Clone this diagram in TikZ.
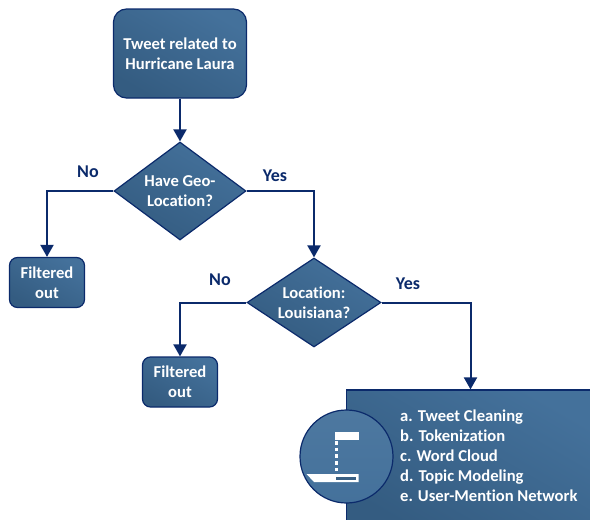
\documentclass[tikz,border=0pt]{standalone}
\usepackage{fontspec}
\setmainfont[RawFeature={-liga;-dlig;-clig}]{Carlito}
\usetikzlibrary{shapes.geometric,arrows.meta}
\definecolor{navy}{HTML}{0B2A6B}
\definecolor{filltop}{HTML}{44719B}
\definecolor{fillbot}{HTML}{345C81}
\tikzset{
  x=1pt,y=-1pt,
  every node/.style={font=\bfseries\fontsize{16.6}{20}\selectfont,align=center},
  fillshade/.style={draw=navy,line width=1.2pt,top color=filltop,bottom color=fillbot,shading angle=-30,text=white,inner sep=0pt},
  roundbox/.style={fillshade,rectangle,rounded corners=#1},
  decision/.style={fillshade,diamond,aspect=1.4},
  conn/.style={draw=navy,line width=2pt,-{Triangle[width=13pt,length=12pt]}},
  answer/.style={text=navy,inner sep=0pt,font=\bfseries\fontsize{18}{20}\selectfont},
  listitem/.style={text=white,inner sep=0pt,anchor=west,text height=12pt,text depth=4pt}
}
\begin{document}
\begin{tikzpicture}
\useasboundingbox (0,0) rectangle (590,520);
\clip (0,0) rectangle (590,520);
\node[roundbox=13pt,minimum width=133pt,minimum height=89pt] (start) at (180,53.5) {\raisebox{1pt}{\parbox{130pt}{\centering Tweet related to\\Hurricane Laura}}};
\node[decision,minimum width=132pt,minimum height=98pt] (d1) at (180,191) {Have Geo-\\Location?};
\node[roundbox=8pt,minimum width=75pt,minimum height=50pt] (f1) at (47,282.5) {Filtered\\out};
\node[decision,minimum width=134pt,minimum height=89pt] (d2) at (314,302.5) {Location:\\Louisiana?};
\node[roundbox=8pt,minimum width=75pt,minimum height=50pt] (f2) at (180,382) {Filtered\\out};
\node[fillshade,rectangle,minimum width=248pt,minimum height=140pt] (big) at (470.5,460) {};
\node[fillshade,circle,minimum size=93pt,top color=filltop!95!white,bottom color=filltop] (icon) at (346.5,456.5) {};
\fill[white] (335,431.7) rectangle (358.5,440);
\draw[white,line width=2.2pt,dash pattern=on 3.5pt off 3.2pt] (336.5,441) -- (336.5,472);
\fill[white] (306.5,474) -- (358.5,474) -- (358.5,482) -- (314,482) -- cycle;
\fill[filltop!85!black] (335.5,476.5) rectangle (355.5,480);
\node[listitem] (la) at (400,417) {a. Tweet Cleaning};
\node[listitem] (lb) at (400,437) {b. Tokenization};
\node[listitem] (lc) at (400,457) {c. Word Cloud};
\node[listitem] (ld) at (400,477) {d. Topic Modeling};
\node[listitem] (le) at (400,497) {e. User-Mention Network};
\draw[conn] (start) -- (d1);
\draw[conn] (d1.west) -| (f1.north);
\draw[conn] (d1.east) -| (d2.north);
\draw[conn] (d2.west) -| (f2.north);
\draw[conn] (d2.east) -| (big.north);
\node[answer] (no1) at (88,172) {No};
\node[answer] (yes1) at (275,176) {Yes};
\node[answer] (no2) at (220,280) {No};
\node[answer] (yes2) at (408,284) {Yes};
\end{tikzpicture}
\end{document}
